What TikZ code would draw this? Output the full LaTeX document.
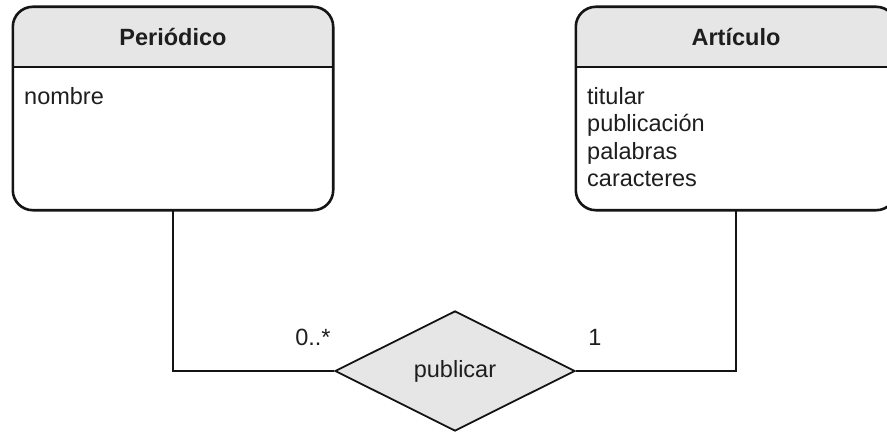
\documentclass[tikz,border=0pt]{standalone}
\usepackage{fontspec}
\setmainfont{Liberation Sans}
\usetikzlibrary{shapes.geometric,calc}
\definecolor{paneshade}{RGB}{230,230,230}
\definecolor{inkline}{RGB}{20,20,20}
\definecolor{inktext}{RGB}{30,30,30}
\begin{document}
\begin{tikzpicture}[x=1pt,y=1pt,
  every node/.style={font=\fontsize{23.5}{27.5}\selectfont, text=inktext},
  entitybox/.style={rectangle, inner sep=0, minimum width=320, minimum height=203, fill=white},
  frame/.style={draw=inkline, line width=2.6pt, rounded corners=20pt},
  divider/.style={draw=inkline, line width=2.4pt},
  title/.style={font=\fontsize{23.5}{27.5}\selectfont\bfseries},
  attrs/.style={align=left, inner sep=0},
  relation/.style={diamond, draw=inkline, line width=1.8pt, fill=paneshade, inner sep=0, minimum width=240, minimum height=120},
  conn/.style={draw=inkline, line width=1.6pt},
  mult/.style={inner sep=0}]
\useasboundingbox (0,0) rectangle (887,432);

% entity boxes
\node[entitybox] (per) at (173,323.5) {};
\node[entitybox] (art) at (736,323.5) {};

% header bands
\foreach \e in {per,art}{
  \begin{scope}
    \clip (\e.north west) rectangle ($(\e.north east)+(0,-60)$);
    \fill[paneshade, rounded corners=20pt] (\e.north west) rectangle (\e.south east);
  \end{scope}
  \draw[divider] ($(\e.north west)+(0,-60)$) -- ($(\e.north east)+(0,-60)$);
  \draw[frame] (\e.north west) rectangle (\e.south east);
}

% titles and attributes
\node[title] (pertitle) at ($(per.north)+(0,-30)$) {Periódico};
\node[title] (arttitle) at ($(art.north)+(0,-30)$) {Artículo};
\node[attrs, anchor=north west] (perattr) at (24,345) {nombre};
\node[attrs, anchor=north west] (artattr) at (587,345) {titular\\publicación\\palabras\\caracteres};

% relationship
\node[relation] (rel) at (455,61) {publicar};
\draw[conn] (per.south) |- (rel.west);
\draw[conn] (art.south) |- (rel.east);

% multiplicities
\node[mult] (mleft) at (313,95) {0..*};
\node[mult] (mright) at (595,95) {1};
\end{tikzpicture}
\end{document}
